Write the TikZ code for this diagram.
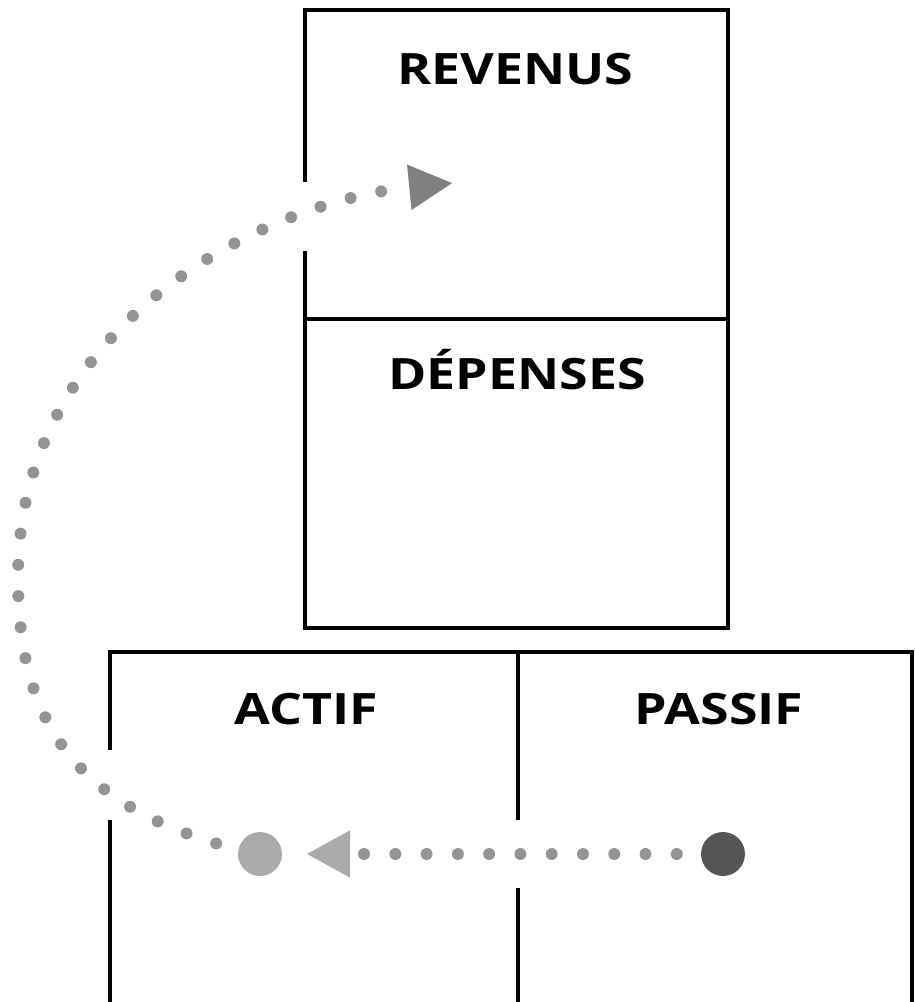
\documentclass[tikz,border=0pt]{standalone}
\usepackage{fontspec}
\usetikzlibrary{arrows.meta}
\newfontfamily\labelfont{Open Sans}[FakeStretch=1.2]
\definecolor{dotgray}{RGB}{148,148,148}
\definecolor{tipgray}{RGB}{128,128,128}
\definecolor{lightball}{RGB}{170,170,170}
\definecolor{darkball}{RGB}{85,85,85}

\begin{document}
\begin{tikzpicture}[x=0.02cm, y=0.02cm,
    edge/.style ={line width=2.3pt, line cap=rect},
    title/.style ={anchor=base, inner sep=0pt, font=\labelfont\bfseries\fontsize{24.6}{28}\selectfont},
    ball/.style ={circle, inner sep=0pt, minimum size=25pt},
    dots/.style ={line width=6.8pt, line cap=round, dash pattern=on 0pt off 17.8pt, draw=dotgray}]
   \useasboundingbox (0,0) rectangle (915,1002);
   % compte de resultat
   \draw[edge] (305,822) -- (305,992) -- (728,992) -- (728,374) -- (305,374) -- (305,749);
   \draw[edge] (305,683) -- (728,683);
   % bilan
   \draw[edge] (110,254) -- (110,350) -- (912,350) -- (912,-10);
   \draw[edge] (110,180) -- (110,-10);
   \draw[edge] (518,350) -- (518,184);
   \draw[edge] (518,112) -- (518,-10);
   \node[title] (rev) at (515,917) {REVENUS};
   \node[title] (dep) at (517,612) {DÉPENSES};
   \node[title] (act) at (306,277) {ACTIF};
   \node[title] (pas) at (719,277) {PASSIF};
   \node[ball, fill=lightball] (A) at (260,148) {};
   \node[ball, fill=darkball] (P) at (723,148) {};
   \coordinate (M) at (18,425);
   \coordinate (R) at (453,819);
   \draw[dots, shorten <=13.6pt, shorten >=13.6pt, -{Triangle[length=25pt, width=25pt, fill=lightball, color=lightball]}] (P) -- (A);
   \draw[dots, shorten <=13pt, -{Triangle[length=25pt, width=24pt, fill=tipgray, color=tipgray]}]
      (A.170) .. controls (80,200) and (18,275) .. (M)
      .. controls (18,675) and (260,800) .. (R);
 \end{tikzpicture}
\end{document}
